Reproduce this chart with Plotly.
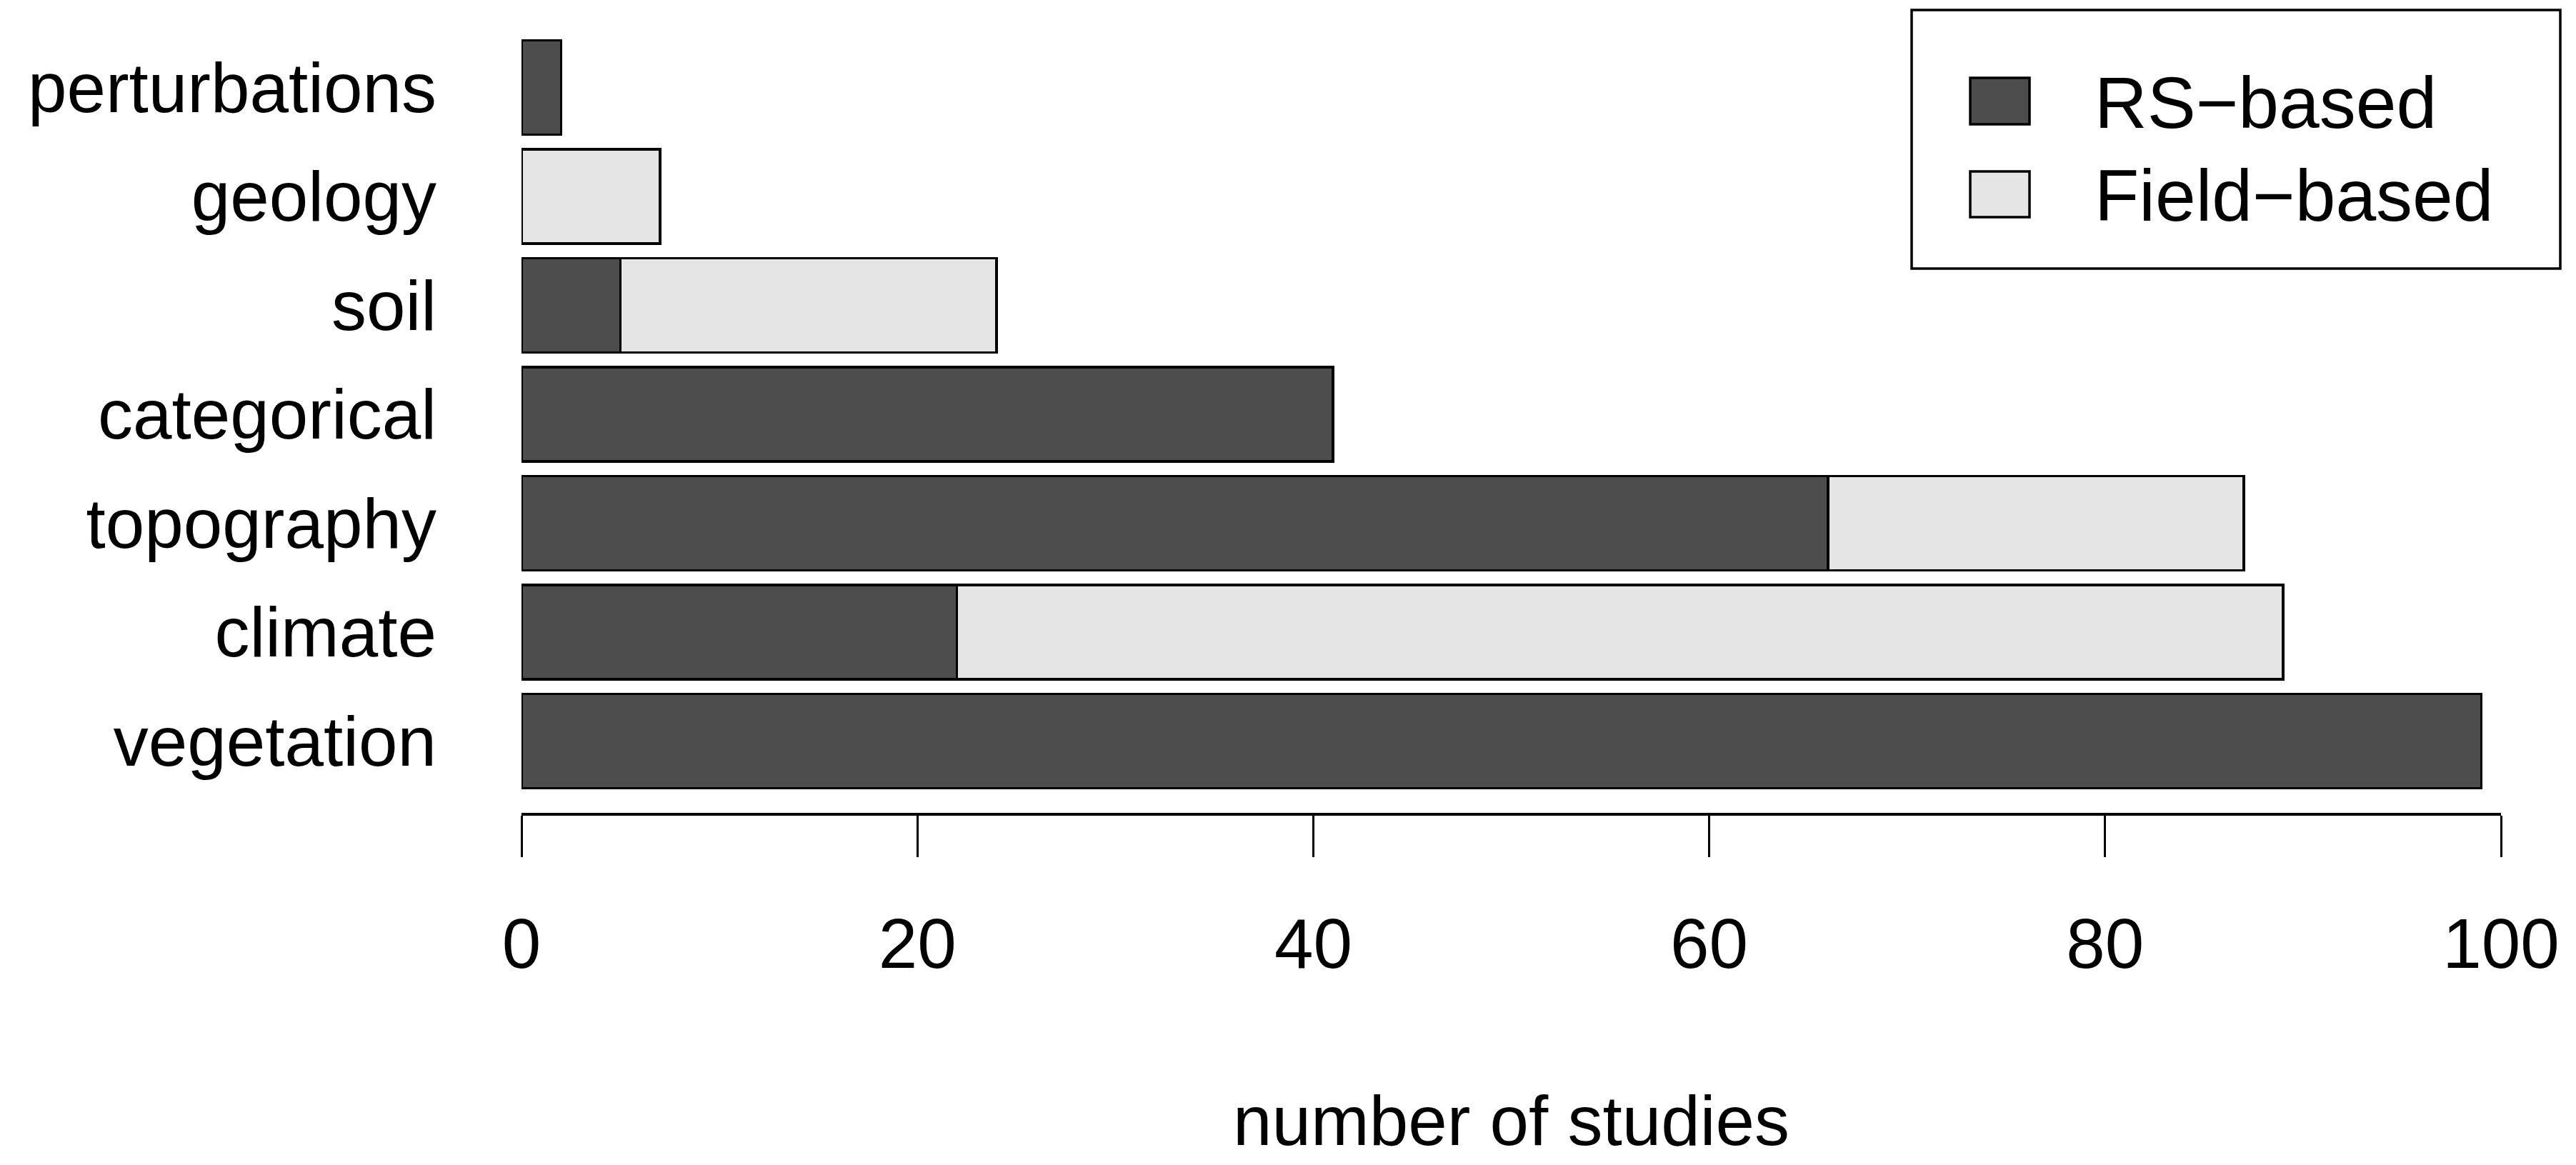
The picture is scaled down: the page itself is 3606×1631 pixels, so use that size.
import plotly.graph_objects as go

# Data (bottom to top, as in the R barplot)
categories = ["vegetation", "climate", "topography", "categorical", "soil", "geology", "perturbations"]
rs_based = [99, 22, 66, 41, 5, 0, 2]
field_based = [0, 67, 21, 0, 19, 7, 0]
series_names = ["RS\u2212based", "Field\u2212based"]
series_colors = ["#4D4D4D", "#E5E5E5"]
x_ticks = [0, 20, 40, 60, 80, 100]

W, H = 3606, 1631
L, R, T, B = 722, 113, 14, 501
FONT = "Liberation Sans, Arial, sans-serif"
FS = 98

def nz(v):
    return [x if x != 0 else None for x in v]

fig = go.Figure()
for name, vals, col in zip(series_names, [rs_based, field_based], series_colors):
    fig.add_trace(go.Bar(
        y=categories, x=nz(vals), orientation="h", name=name,
        marker=dict(color=col, line=dict(color="black", width=3.5)),
        showlegend=False,
    ))

fig.update_layout(
    width=W, height=H, barmode="stack", bargap=0.136,
    margin=dict(l=L, r=R, t=T, b=B, pad=0),
    paper_bgcolor="white", plot_bgcolor="white",
    font=dict(family=FONT, size=FS, color="black"),
)
fig.update_xaxes(
    range=[0, 100], tickvals=x_ticks, ticks="outside", ticklen=58, tickwidth=2.5,
    tickcolor="black", showline=True, linecolor="black", linewidth=3.5,
    showgrid=False, zeroline=False, ticklabelstandoff=38,
    title=dict(text="number of studies", standoff=160, font=dict(size=FS)),
    tickfont=dict(size=FS),
)
fig.update_yaxes(
    range=[-0.659, 6.659], categoryorder="array", categoryarray=categories,
    showline=False, ticks="", showgrid=False, zeroline=False,
    ticklabelstandoff=118, tickfont=dict(size=FS),
)

# manual legend
pw, ph = W - L - R, H - T - B
def px(x):
    return (x - L) / pw
def py(y):
    return (H - B - y) / ph

fig.add_shape(type="rect", xref="paper", yref="paper",
              x0=px(2668), x1=px(3576), y0=py(368), y1=py(6),
              line=dict(color="black", width=3.5), fillcolor="white", layer="above")
legend_rows = [(101, 166), (232, 296)]
for (y0, y1), name, col in zip(legend_rows, series_names, series_colors):
    fig.add_shape(type="rect", xref="paper", yref="paper",
                  x0=px(2750), x1=px(2833), y0=py(y1), y1=py(y0),
                  line=dict(color="black", width=3.5), fillcolor=col, layer="above")
    fig.add_annotation(xref="paper", yref="paper", x=px(2922), y=py((y0 + y1) / 2 + 2),
                       text=name, showarrow=False, xanchor="left", yanchor="middle",
                       font=dict(family=FONT, size=FS + 4, color="black"))

fig.write_html("out.html")
